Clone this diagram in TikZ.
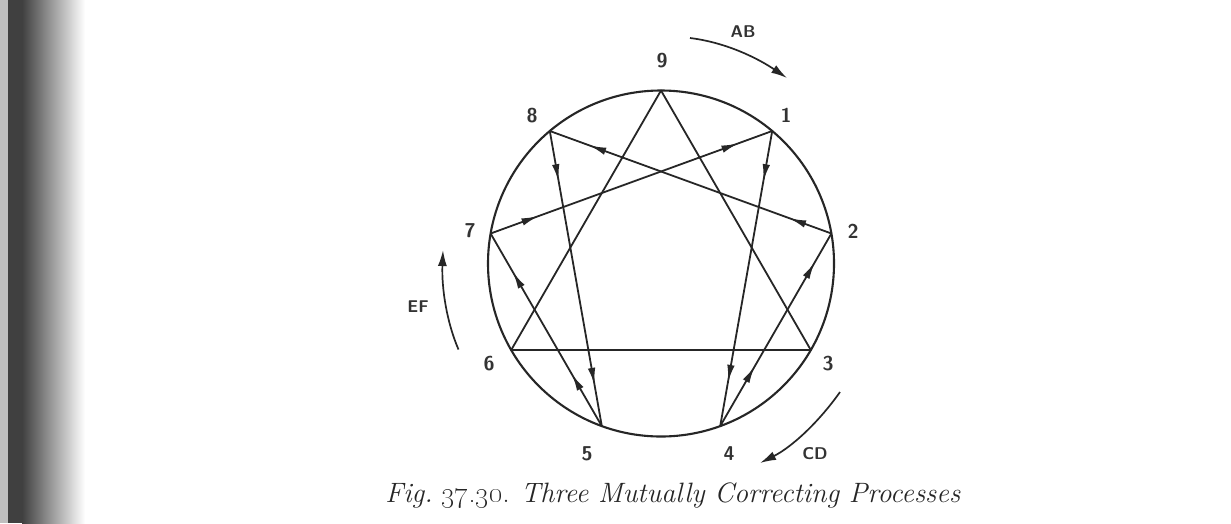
\documentclass[tikz,border=0pt]{standalone}
\usetikzlibrary{decorations.markings,arrows.meta}
\begin{document}
\begin{tikzpicture}[x=1pt,y=-1pt,
 chord/.style={draw=black!85, line width=1.8pt},
 flow/.style 2 args={chord, postaction={decorate}, decoration={markings,
    mark=at position #1 with {\arrow[black!85]{Latex[length=17pt,width=7.5pt]}},
    mark=at position #2 with {\arrow[black!85]{Latex[length=17pt,width=7.5pt]}}}},
 digit/.style={font=\sffamily\bfseries\fontsize{20}{20}\selectfont, text=black!80, inner sep=0pt},
 proc/.style={font=\sffamily\bfseries\fontsize{17}{17}\selectfont, text=black!80, inner sep=0pt},
 bigarrow/.style={draw=black!85, line width=1.7pt, -{Latex[length=16pt,width=9pt]}},
]
% page and binding shadow
\fill[white] (0,0) rectangle (1231,523);
\useasboundingbox (0,0) rectangle (1231,523);
\fill[black!25] (0,0) rectangle (8,523);
\fill[black!75] (8,0) rectangle (22,523);
\shade[left color=black!75, right color=white] (22,0) rectangle (85,523);

% points of the enneagram
\coordinate (c) at (661,263.5);
\coordinate (p9) at (661,90.5);
\coordinate (p1) at (772.2,131.0);
\coordinate (p2) at (831.4,233.5);
\coordinate (p3) at (810.8,350.0);
\coordinate (p4) at (720.2,426.1);
\coordinate (p5) at (601.8,426.1);
\coordinate (p6) at (511.2,350.0);
\coordinate (p7) at (490.6,233.5);
\coordinate (p8) at (549.8,131.0);

% circle
\draw[chord, line width=2.1pt] (c) circle[radius=173pt];

% triangle
\draw[chord, line join=round] (p9) -- (p3) -- (p6) -- cycle;

% hexad with arrows
\draw[flow={0.17}{0.85}] (p1) -- (p4);
\draw[flow={0.31}{0.85}] (p4) -- (p2);
\draw[flow={0.15}{0.86}] (p2) -- (p8);
\draw[flow={0.17}{0.86}] (p8) -- (p5);
\draw[flow={0.27}{0.80}] (p5) -- (p7);
\draw[flow={0.17}{0.88}] (p7) -- (p1);

% digit labels
\node[digit] (l9) at (662,61) {9};
\node[digit] (l1) at (786,115) {1};
\node[digit] (l2) at (853,231) {2};
\node[digit] (l3) at (828,364) {3};
\node[digit] (l4) at (729,454) {4};
\node[digit] (l5) at (587,454) {5};
\node[digit] (l6) at (489,364) {6};
\node[digit] (l7) at (470,231) {7};
\node[digit] (l8) at (532,116) {8};

% process arrows
\coordinate (ab1) at (690,38);
\coordinate (ab2) at (787,78);
\draw[bigarrow] (ab1) .. controls (725.7,42.4) and (757.2,57.9) .. (ab2);
\node[proc] (ab) at (743,32) {AB};

\coordinate (cd1) at (840,392);
\coordinate (cd2) at (760,463);
\draw[bigarrow] (cd1) .. controls (819.3,421.4) and (792.2,446.9) .. (cd2);
\node[proc] (cd) at (815,454) {CD};

\coordinate (ef1) at (458.5,349.5);
\coordinate (ef2) at (443,250);
\draw[bigarrow] (ef1) .. controls (447,323) and (441.5,289) .. (ef2);
\node[proc] (ef) at (418,307) {EF};

% caption
\node[anchor=base, inner sep=0pt, text=black!85, font=\fontsize{28}{31}\selectfont] (cap) at (673,502)
  {\textit{Fig.}~\oldstylenums{37.30}. \textit{Three Mutually Correcting Processes}};
\end{tikzpicture}
\end{document}
